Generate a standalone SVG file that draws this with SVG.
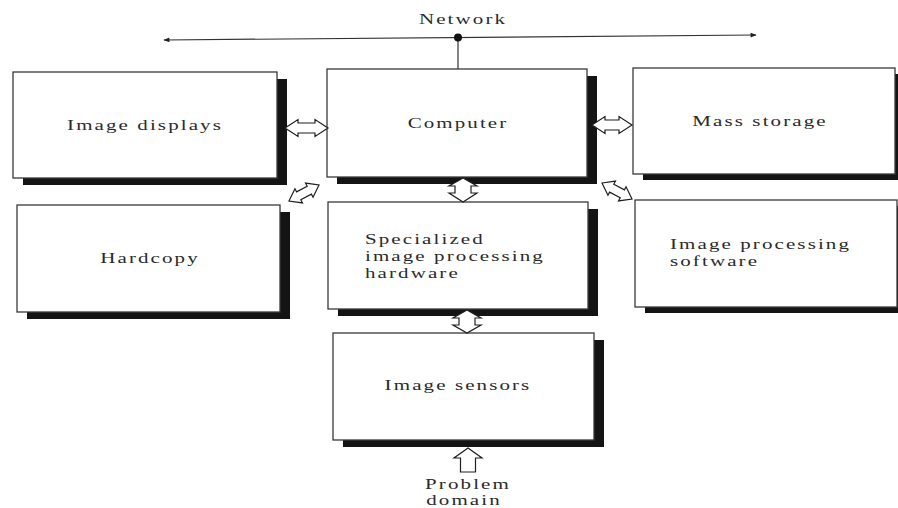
<svg xmlns="http://www.w3.org/2000/svg" xmlns:xlink="http://www.w3.org/1999/xlink" width="898" height="508" viewBox="0 0 898 508">
  <style>
    .box { fill: #ffffff; stroke: #3a3a3a; stroke-width: 1.3; }
    .shadow { fill: #141414; }
    .lbl { font-family: "Liberation Serif", "Times New Roman", serif; font-size: 15px; fill: #2a2a2a; letter-spacing: 1.5px; }
    .mid { text-anchor: middle; }
    .arr { fill: #ffffff; stroke: #1e1e1e; stroke-width: 1.2; stroke-linejoin: miter; }
    .net { stroke: #333333; stroke-width: 1.2; fill: none; }
  </style>
  <defs>
    <marker id="ah" viewBox="0 0 10 10" refX="9" refY="5" markerWidth="8" markerHeight="6" markerUnits="userSpaceOnUse" orient="auto-start-reverse">
      <path d="M0,1 L10,5 L0,9 Z" fill="#222"/>
    </marker>
    <path id="dbl" d="M-17,0 L-6,-8 L-6,-4.5 L6,-4.5 L6,-8 L17,0 L6,8 L6,4.5 L-6,4.5 L-6,8 Z"/>
  </defs>

  <!-- Network -->
  <g id="network">
    <g transform="translate(463,24) scale(1.4,1)"><text class="lbl mid" x="0" y="0">Network</text></g>
  </g>

  <!-- Nodes -->
  <g id="image-displays">
    <rect class="shadow" x="23" y="79" width="264" height="106"/>
    <rect class="box" x="13" y="72" width="264" height="106"/>
    <g transform="translate(145,130) scale(1.4,1)"><text class="lbl mid" x="0" y="0">Image displays</text></g>
  </g>

  <g id="computer">
    <rect class="shadow" x="337" y="76" width="260" height="108"/>
    <rect class="box" x="327" y="69" width="260" height="108"/>
    <g transform="translate(458,128) scale(1.4,1)"><text class="lbl mid" x="0" y="0">Computer</text></g>
  </g>

  <g id="mass-storage">
    <rect class="shadow" x="643" y="74" width="262" height="106"/>
    <rect class="box" x="633" y="68" width="262" height="106"/>
    <g transform="translate(760,126) scale(1.4,1)"><text class="lbl mid" x="0" y="0">Mass storage</text></g>
  </g>

  <g id="hardcopy">
    <rect class="shadow" x="27" y="212" width="263" height="107"/>
    <rect class="box" x="17" y="205" width="263" height="107"/>
    <g transform="translate(150,263) scale(1.4,1)"><text class="lbl mid" x="0" y="0">Hardcopy</text></g>
  </g>

  <g id="specialized-hardware">
    <rect class="shadow" x="338" y="209" width="260" height="107"/>
    <rect class="box" x="328" y="202" width="260" height="107"/>
    <g transform="translate(365,244) scale(1.4,1)"><text class="lbl" x="0" y="0">Specialized</text></g>
    <g transform="translate(365,261) scale(1.4,1)"><text class="lbl" x="0" y="0">image processing</text></g>
    <g transform="translate(365,278) scale(1.4,1)"><text class="lbl" x="0" y="0">hardware</text></g>
  </g>

  <g id="image-processing-software">
    <rect class="shadow" x="645" y="206" width="262" height="107"/>
    <rect class="box" x="635" y="200" width="262" height="107"/>
    <g transform="translate(670,249) scale(1.4,1)"><text class="lbl" x="0" y="0">Image processing</text></g>
    <g transform="translate(670,266) scale(1.4,1)"><text class="lbl" x="0" y="0">software</text></g>
  </g>

  <g id="image-sensors">
    <rect class="shadow" x="343" y="340" width="261" height="107"/>
    <rect class="box" x="333" y="333" width="261" height="107"/>
    <g transform="translate(458,390) scale(1.4,1)"><text class="lbl mid" x="0" y="0">Image sensors</text></g>
  </g>

  <g id="problem-domain">
    <g transform="translate(468,489) scale(1.4,1)"><text class="lbl mid" x="0" y="0">Problem</text></g>
    <g transform="translate(464,505) scale(1.4,1)"><text class="lbl mid" x="0" y="0">domain</text></g>
  </g>

  <!-- Connectors -->
  <g id="connectors">
    <line class="net" x1="164" y1="40" x2="756" y2="35" marker-start="url(#ah)" marker-end="url(#ah)"/>
    <line class="net" x1="458" y1="37" x2="458" y2="69"/>
    <circle cx="458" cy="37.5" r="4" fill="#111"/>

    <!-- Image displays <-> Computer -->
    <polygon class="arr" points="285,128 298,119.5 298,123 315,123 315,119.5 328,128 315,136.5 315,133 298,133 298,136.5"/>
    <!-- Computer <-> Mass storage -->
    <polygon class="arr" points="592,125 605,116.5 605,120 619,120 619,116.5 632,125 619,133.5 619,130 605,130 605,133.5"/>
    <!-- Computer <-> Specialized hardware -->
    <polygon class="arr" points="463,178 477,186 471,186 471,193 477,193 463,202 449,193 455,193 455,186 449,186"/>
    <!-- Specialized hardware <-> Image sensors -->
    <polygon class="arr" points="467,310 481,318 475,318 475,325 481,325 467,333 453,325 459,325 459,318 453,318"/>
    <!-- Problem domain -> Image sensors -->
    <polygon class="arr" points="468,448 482,458 475.5,458 475.5,472 460.5,472 460.5,458 454,458"/>
    <!-- Hardcopy <-> Computer -->
    <use href="#dbl" xlink:href="#dbl" class="arr" transform="translate(304,193) rotate(-28)"/>
    <!-- Computer <-> Image processing software -->
    <use href="#dbl" xlink:href="#dbl" class="arr" transform="translate(617,191) rotate(28)"/>
  </g>
</svg>
